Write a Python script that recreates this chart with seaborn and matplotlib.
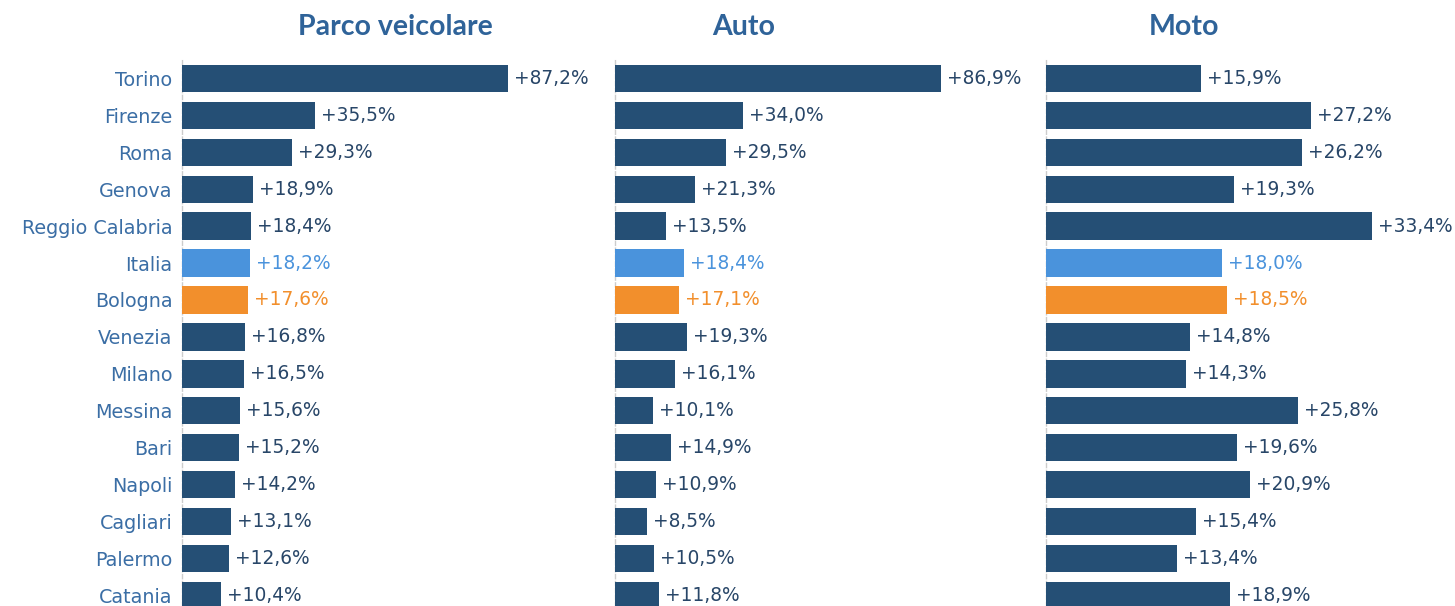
import matplotlib
matplotlib.use("Agg")
import matplotlib.pyplot as plt
import seaborn as sns
import pandas as pd

cities = ["Torino", "Firenze", "Roma", "Genova", "Reggio Calabria", "Italia", "Bologna",
          "Venezia", "Milano", "Messina", "Bari", "Napoli", "Cagliari", "Palermo", "Catania"]
parco = [87.2, 35.5, 29.3, 18.9, 18.4, 18.2, 17.6, 16.8, 16.5, 15.6, 15.2, 14.2, 13.1, 12.6, 10.4]
auto = [86.9, 34.0, 29.5, 21.3, 13.5, 18.4, 17.1, 19.3, 16.1, 10.1, 14.9, 10.9, 8.5, 10.5, 11.8]
moto = [15.9, 27.2, 26.2, 19.3, 33.4, 18.0, 18.5, 14.8, 14.3, 25.8, 19.6, 20.9, 15.4, 13.4, 18.9]
titles = ["Parco veicolare", "Auto", "Moto"]

DARK = "#254f75"
LIGHT = "#4a93dc"
ORANGE = "#f28f2c"
special = {"Italia": LIGHT, "Bologna": ORANGE}
bar_colors = [special.get(c, DARK) for c in cities]
label_colors = [special.get(c, "#284668") for c in cities]

sns.set_theme(style="white")
plt.rcParams["font.family"] = ["DejaVu Sans"]

W, H = 1455, 606
fig = plt.figure(figsize=(W / 100, H / 100), dpi=100)

# axes spans in pixels (left, right)
spans = [(182, 600), (615, 1031), (1046, 1455)]
title_x = [395, 744, 1184]
top_px, bot_px = 58, 606
max_bar_px = 326
series = [parco, auto, moto]

for i, (vals, (l, r)) in enumerate(zip(series, spans)):
    ax = fig.add_axes([l / W, 1 - bot_px / H, (r - l) / W, (bot_px - top_px) / H])
    df = pd.DataFrame({"city": cities, "val": vals})
    sns.barplot(data=df, x="val", y="city", hue="city", palette=bar_colors,
                legend=False, ax=ax, width=0.745, orient="h", saturation=1,
                linewidth=0, edgecolor="none")
    vmax = max(vals)
    ax.set_xlim(0, vmax * (r - l) / max_bar_px)
    ax.set_ylim(14.29, -0.556)
    for j, v in enumerate(vals):
        ax.text(v + vmax * 6 / max_bar_px, j, "+" + f"{v:.1f}".replace(".", ",") + "%",
                va="center", ha="left", fontsize=13.4, color=label_colors[j])
    ax.set_xlabel("")
    ax.set_ylabel("")
    ax.set_xticks([])
    for s in ["top", "right", "bottom"]:
        ax.spines[s].set_visible(False)
    ax.spines["left"].set_color("#cccccc")
    ax.spines["left"].set_linestyle((0, (3, 2)))
    ax.spines["left"].set_linewidth(1)
    ax.spines["left"].set_zorder(0)
    if i == 0:
        ax.tick_params(axis="y", length=0, pad=7, labelsize=13.8, labelcolor="#3b6ea5")
    else:
        ax.set_yticklabels([])
        ax.tick_params(axis="y", length=0)
    fig.text(title_x[i] / W, 1 - 35 / H, titles[i], ha="center", va="baseline",
             fontsize=20.5, fontweight="bold", color="#2f6399",
             family=["Lato", "DejaVu Sans"])

fig.savefig("out.png", dpi=100)
